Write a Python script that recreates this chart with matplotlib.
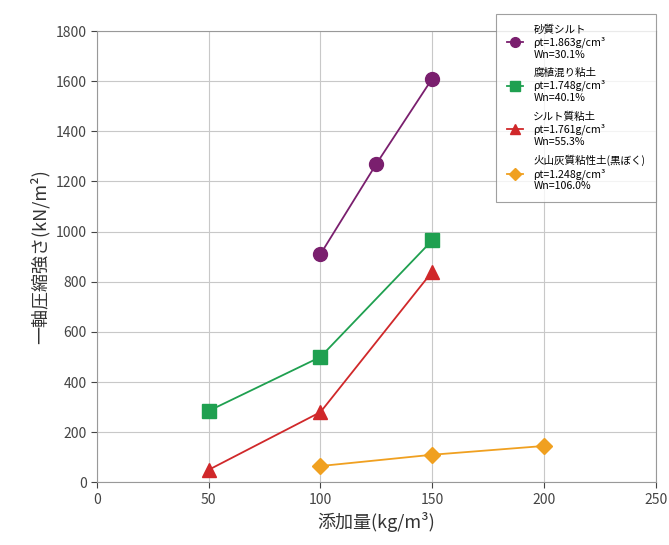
import numpy as np
from matplotlib import pyplot as plt
plt.rcParams['font.family'] = ['Noto Sans CJK JP', 'DejaVu Sans']

# data
x_silt = [100, 125, 150]
y_silt = [910, 1270, 1610]
x_humus = [50, 100, 150]
y_humus = [285, 500, 965]
x_siltclay = [50, 100, 150]
y_siltclay = [50, 280, 840]
x_kuroboku = [100, 150, 200]
y_kuroboku = [65, 110, 145]

labels = ["砂質シルト\nρt=1.863g/cm³\nWn=30.1%",
          "腐植混り粘土\nρt=1.748g/cm³\nWn=40.1%",
          "シルト質粘土\nρt=1.761g/cm³\nWn=55.3%",
          "火山灰質粘性土(黒ぼく)\nρt=1.248g/cm³\nWn=106.0%"]

fig, ax = plt.subplots(figsize=(6.69, 5.45), dpi=100)
fig.subplots_adjust(left=0.145, right=0.98, top=0.943, bottom=0.115)

ax.plot(x_silt, y_silt, '-o', color='#7a1f6e', ms=10, lw=1.3, label=labels[0])
ax.plot(x_humus, y_humus, '-s', color='#1fa050', ms=9.5, lw=1.3, label=labels[1])
ax.plot(x_siltclay, y_siltclay, '-^', color='#d0282a', ms=10.5, lw=1.3, label=labels[2])
ax.plot(x_kuroboku, y_kuroboku, '-D', color='#f0a020', ms=8.5, lw=1.3, label=labels[3])

ax.set_xlim(0, 250)
ax.set_ylim(0, 1800)
ax.set_xticks(np.arange(0, 251, 50))
ax.set_yticks(np.arange(0, 1801, 200))
ax.grid(True, color='#c8c8c8', lw=0.8)
for s in ax.spines.values():
    s.set_color('#999999')
ax.tick_params(colors='#444444', labelsize=10, length=4)
ax.set_xlabel('添加量(kg/m³)', fontsize=13, color='#333333')
ax.set_ylabel('一軸圧縮強さ(kN/m²)', fontsize=13, color='#333333')

leg = ax.legend(loc='upper right', bbox_to_anchor=(1.01, 1.05), fontsize=7.6,
                frameon=True, fancybox=False, edgecolor='#888888',
                handlelength=1.5, labelspacing=0.8, markerscale=0.7,
                borderpad=1.0, handletextpad=1.0)
leg.get_frame().set_linewidth(0.8)

fig.savefig('out.png', dpi=100)
